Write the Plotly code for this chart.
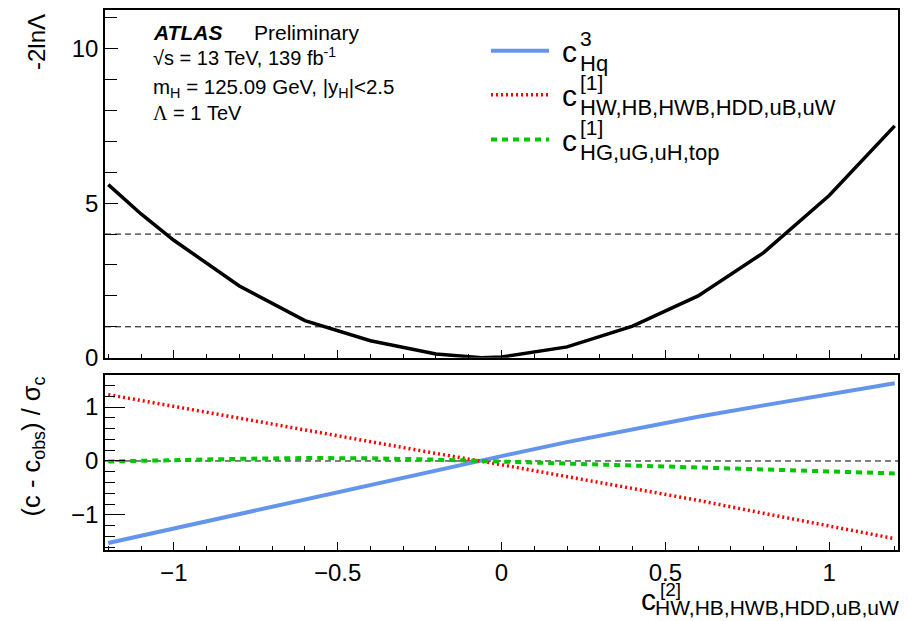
import plotly.graph_objects as go

# ---------------- data ----------------
x_nll = [-1.2, -1.1, -1.0, -0.8, -0.6, -0.4, -0.2, -0.06, 0.0, 0.2, 0.4, 0.6, 0.8, 1.0, 1.2]
nll = [5.6, 4.65, 3.8, 2.32, 1.2, 0.55, 0.12, 0.0, 0.02, 0.35, 1.02, 2.0, 3.4, 5.25, 7.5]

x_pull = [-1.2, -1.0, -0.8, -0.6, -0.4, -0.2, 0.0, 0.2, 0.4, 0.6, 0.8, 1.0, 1.2]
pull_hq3 = [-1.52, -1.25, -0.98, -0.72, -0.45, -0.18, 0.09, 0.35, 0.59, 0.82, 1.03, 1.24, 1.44]
pull_hw1 = [1.23, 1.01, 0.79, 0.57, 0.35, 0.14, -0.07, -0.29, -0.50, -0.73, -0.97, -1.20, -1.44]
pull_hg1 = [-0.01, 0.02, 0.04, 0.055, 0.05, 0.025, -0.01, -0.05, -0.085, -0.12, -0.16, -0.195, -0.23]

ref_levels = [1, 4]
x_range = [-1.21, 1.21]
y_top_range = [0, 11.25]
y_low_range = [-1.65, 1.6]

x_ticks = [-1, -0.5, 0, 0.5, 1]
y_top_ticks = [0, 5, 10]
y_low_ticks = [-1, 0, 1]

FONT = "Liberation Sans, Arial, Helvetica, sans-serif"
BLUE = "#6495ED"
RED = "#FF0000"
GREEN = "#00C800"

W, H = 910, 621
ML, MR, MT, MB = 105, 12, 8, 71
PW, PH = W - ML - MR, H - MT - MB


def px(x):
    return (x - ML) / PW


def py(y):
    return (H - MB - y) / PH


fig = go.Figure()

# lower panel zero line
fig.add_trace(go.Scatter(x=x_range, y=[0, 0], mode="lines", xaxis="x", yaxis="y2",
                         line=dict(color="black", width=1, dash="6px,4px"), hoverinfo="skip"))
# lower panel pulls
fig.add_trace(go.Scatter(x=x_pull, y=pull_hq3, mode="lines", xaxis="x", yaxis="y2",
                         line=dict(color=BLUE, width=4)))
fig.add_trace(go.Scatter(x=x_pull, y=pull_hw1, mode="lines", xaxis="x", yaxis="y2",
                         line=dict(color=RED, width=3.5, dash="2px,3px")))
fig.add_trace(go.Scatter(x=x_pull, y=pull_hg1, mode="lines", xaxis="x", yaxis="y2",
                         line=dict(color=GREEN, width=4, dash="6px,5px")))

# upper panel reference levels
for lv in ref_levels:
    fig.add_trace(go.Scatter(x=x_range, y=[lv, lv], mode="lines", xaxis="x2", yaxis="y",
                             line=dict(color="black", width=1, dash="6px,4px"), hoverinfo="skip"))
# upper panel NLL
fig.add_trace(go.Scatter(x=x_nll, y=nll, mode="lines", xaxis="x2", yaxis="y",
                         line=dict(color="black", width=3.5)))

lo_top = py(374)
up_bot = py(357)

axis_common = dict(showline=True, mirror=True, linecolor="black", linewidth=1.5,
                   showgrid=False, zeroline=False, ticks="inside", tickcolor="black",
                   tickfont=dict(family=FONT, size=24, color="black"))

fig.update_layout(
    width=W, height=H,
    margin=dict(l=ML, r=MR, t=MT, b=MB),
    paper_bgcolor="white", plot_bgcolor="white",
    showlegend=False,
    xaxis=dict(axis_common, domain=[0, 1], anchor="y2", range=x_range,
               tickvals=x_ticks, ticklen=8, tickwidth=1,
               minor=dict(ticks="inside", ticklen=4, dtick=0.1, tick0=0, tickcolor="black", showgrid=False)),
    xaxis2=dict(axis_common, domain=[0, 1], anchor="y", range=x_range, matches="x",
                tickvals=x_ticks, ticklen=8, tickwidth=1, showticklabels=False,
                minor=dict(ticks="inside", ticklen=4, dtick=0.1, tick0=0, tickcolor="black", showgrid=False)),
    yaxis=dict(axis_common, domain=[up_bot, 1], anchor="x2", range=y_top_range,
               tickvals=y_top_ticks, ticklen=13, tickwidth=1,
               minor=dict(ticks="inside", ticklen=12, dtick=1, tick0=0, tickcolor="black", showgrid=False)),
    yaxis2=dict(axis_common, domain=[0, lo_top], anchor="x", range=y_low_range,
                tickvals=y_low_ticks, ticklen=20, tickwidth=1,
                minor=dict(ticks="inside", ticklen=10, dtick=0.2, tick0=0, tickcolor="black", showgrid=False)),
)

ann = []


def add_text(text, x, y, size, xanchor="left", yanchor="middle", angle=0, family=FONT):
    ann.append(dict(text=text, x=px(x), y=py(y), xref="paper", yref="paper",
                    xanchor=xanchor, yanchor=yanchor, showarrow=False, textangle=angle,
                    font=dict(family=family, size=size, color="black")))


# ATLAS label block
add_text("<b><i>ATLAS</i></b>", 151, 31, 21)
add_text("Preliminary", 252, 31, 21)
add_text("√s = 13 TeV, 139 fb<sup>-1</sup>", 151, 55, 20)
add_text("m<sub>H</sub> = 125.09 GeV, |y<sub>H</sub>|&lt;2.5", 151, 86, 20.5)
add_text("<span style='font-family:Liberation Serif,serif'>Λ</span> = 1 TeV", 151, 111, 20)

# legend labels
leg = [
    (49, "3", "Hq", BLUE, 4, "solid"),
    (93, "[1]", "HW,HB,HWB,HDD,uB,uW", RED, 3.5, "2px,3px"),
    (138, "[1]", "HG,uG,uH,top", GREEN, 4, "6px,5px"),
]
shapes = []
for yl, sup, sub, col, wd, ds in leg:
    shapes.append(dict(type="line", xref="paper", yref="paper", x0=px(491), x1=px(549),
                       y0=py(yl), y1=py(yl), line=dict(color=col, width=wd, dash=ds)))
    add_text("c", 560, yl + 1, 30)
    add_text(sup, 578, yl - 12, 21)
    add_text(sub, 578, yl + 13, 22)

# axis titles
add_text("-2lnΛ", 37, 10, 24, xanchor="center", yanchor="top", angle=-90)
add_text("(c - c<sub>obs</sub>) / σ<sub>c</sub>", 33, 446, 25.5, xanchor="center", angle=-90)

add_text("c", 639, 600, 30)
add_text("[2]", 658, 590, 19)
add_text("HW,HB,HWB,HDD,uB,uW", 901, 608, 21, xanchor="right")

fig.update_layout(annotations=ann, shapes=shapes)
fig.write_html("out.html")
